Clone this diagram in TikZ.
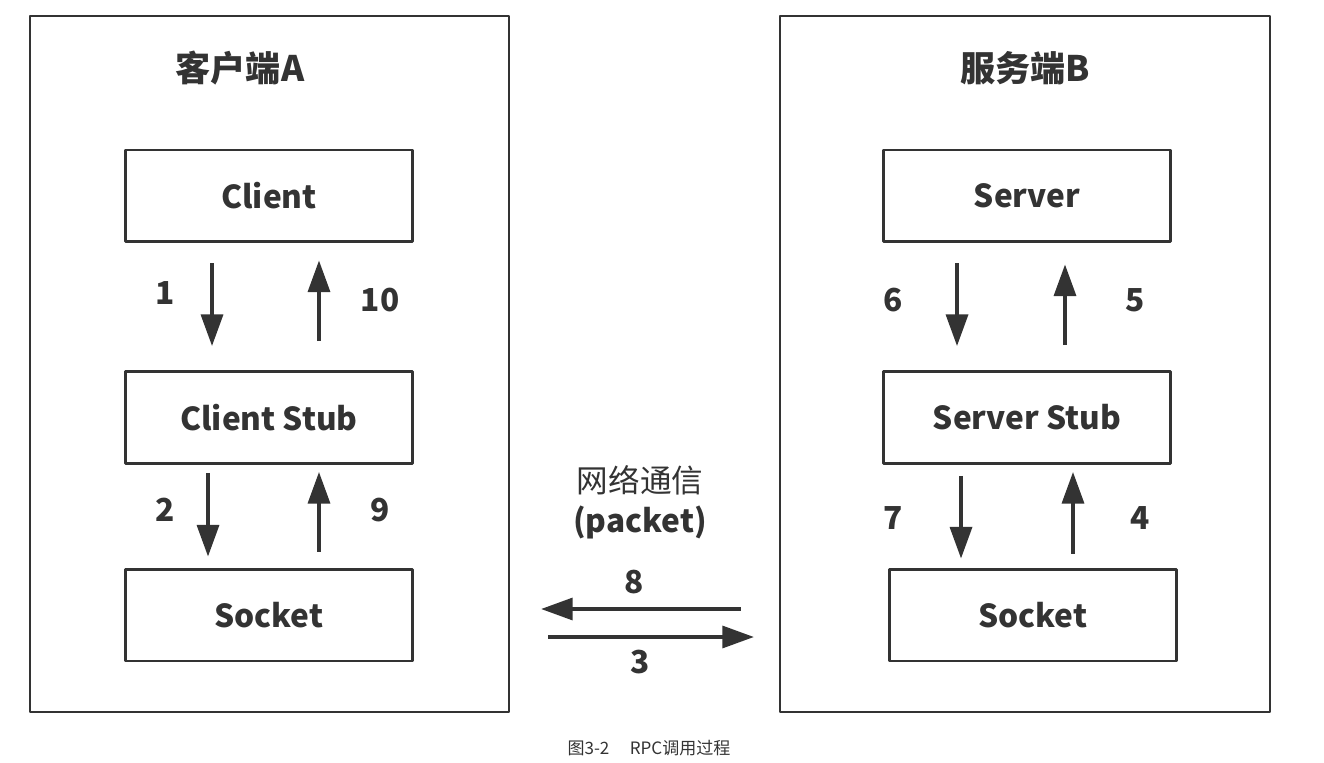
\documentclass[tikz,border=0pt]{standalone}
\usepackage{fontspec}
\setmainfont{Noto Sans CJK SC}
\usetikzlibrary{arrows.meta}
\definecolor{ink}{HTML}{333333}
\begin{document}
\begin{tikzpicture}[x=0.02cm, y=-0.02cm, line join=round, ink,
  outer/.style={draw=ink, line width=1.3pt, minimum width=9.58cm, minimum height=13.92cm},
  inner/.style={draw=ink, line width=1.7pt, minimum width=5.76cm, minimum height=1.84cm, font=\fontsize{18}{20}\selectfont\bfseries},
  title/.style={font=\fontsize{20}{22}\selectfont\bfseries},
  num/.style={font=\fontsize{18}{20}\selectfont\bfseries},
  flow/.style={draw=ink, line width=2pt, -{Triangle[width=12.5pt,length=18pt]}}]
  \useasboundingbox (0,0) rectangle (1324,763);
  \node[outer] (boxA) at (269.5,364) {};
  \node[outer, minimum width=9.8cm] (boxB) at (1025,364) {};
  \node[title] (tA) at (240,68) {客户端A};
  \node[title] (tB) at (1025,68) {服务端B};
  \node[inner] (client) at (269,196) {Client};
  \node[inner] (cstub) at (269,417.5) {Client Stub};
  \node[inner] (csock) at (269,615) {Socket};
  \node[inner] (server) at (1027,196) {Server};
  \node[inner] (sstub) at (1027,417.5) {Server Stub};
  \node[inner] (ssock) at (1033,615) {Socket};
  \draw[flow, shorten <=0.4cm, shorten >=0.48cm] ([xshift=-1.14cm]client.south) -- ([xshift=-1.14cm]cstub.north);
  \draw[flow, shorten <=0.58cm, shorten >=0.34cm] ([xshift=1cm]cstub.north) -- ([xshift=1cm]client.south);
  \draw[flow, shorten <=0.16cm, shorten >=0.22cm] ([xshift=-1.22cm]cstub.south) -- ([xshift=-1.22cm]csock.north);
  \draw[flow, shorten <=0.32cm, shorten >=0.14cm] ([xshift=1cm]csock.north) -- ([xshift=1cm]cstub.south);
  \draw[flow, shorten <=0.4cm, shorten >=0.48cm] ([xshift=-1.4cm]server.south) -- ([xshift=-1.4cm]sstub.north);
  \draw[flow, shorten <=0.5cm, shorten >=0.42cm] ([xshift=0.76cm]sstub.north) -- ([xshift=0.76cm]server.south);
  \coordinate (d7) at ([xshift=-1.32cm]sstub.south);
  \coordinate (u4) at ([xshift=0.92cm]sstub.south);
  \draw[flow, shorten <=0.22cm, shorten >=0.18cm] (d7) -- (d7 |- ssock.north);
  \draw[flow, shorten <=0.28cm, shorten >=0.14cm] (u4 |- ssock.north) -- (u4);
  \coordinate (back) at ([yshift=0.12cm]csock.east);
  \coordinate (send) at ([yshift=-0.44cm]csock.east);
  \draw[flow, shorten <=0.76cm, shorten >=0.62cm] (back -| boxB.west) -- (back -| boxA.east);
  \draw[flow, shorten <=0.76cm, shorten >=0.5cm] (send -| boxA.east) -- (send -| boxB.west);
  \node[num] (n1) at (165,293) {1};
  \node[num] (n10) at (380,300) {10};
  \node[num] (n2) at (165,510) {2};
  \node[num] (n9) at (380,510) {9};
  \node[num] (n6) at (893,300) {6};
  \node[num] (n5) at (1135,300) {5};
  \node[num] (n7) at (893,518) {7};
  \node[num] (n4) at (1140,518) {4};
  \node[num] (n8) at (634,582) {8};
  \node[num] (n3) at (640,662) {3};
  \node[num, align=center, font=\fontsize{18}{23}\selectfont] (net) at (640,502) {网络通信\\\bfseries(packet)};
  \node[font=\fontsize{9.7}{11}\selectfont] (cap) at (649,748) {图3-2\hspace{1.2em}RPC调用过程};
\end{tikzpicture}
\end{document}
